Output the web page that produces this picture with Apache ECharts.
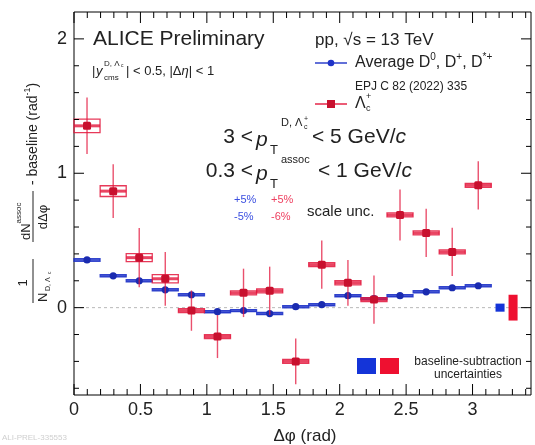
<!DOCTYPE html>
<html>
<head>
<meta charset="utf-8">
<script src="https://cdn.jsdelivr.net/npm/echarts@6/dist/echarts.min.js"></script>
<style>
  html, body { margin: 0; padding: 0; background: #fff; }
  #chart { width: 535px; height: 445px; }
</style>
</head>
<body>
<div id="chart"></div>
<script>
// Δφ bin centres (π/16 wide bins) and half width
const phiBins = [0.098, 0.295, 0.491, 0.687, 0.884, 1.080, 1.276, 1.473, 1.669, 1.865, 2.062, 2.258, 2.454, 2.651, 2.847, 3.043];
const binHalfWidth = 0.098;

// Average D0, D+, D*+ (EPJ C 82 (2022) 335)
const avgD     = [0.355, 0.237, 0.200, 0.133, 0.096, -0.030, -0.022, -0.044, 0.007, 0.022, 0.089, 0.067, 0.089, 0.118, 0.148, 0.163];
const avgDStat = [0.020, 0.018, 0.018, 0.020, 0.020, 0.020, 0.020, 0.020, 0.020, 0.020, 0.020, 0.020, 0.020, 0.020, 0.020, 0.020];
const avgDSyst = [0.010, 0.008, 0.008, 0.008, 0.008, 0.008, 0.008, 0.008, 0.008, 0.008, 0.008, 0.008, 0.008, 0.008, 0.008, 0.008];

// Λc+
const lambdaC     = [1.353, 0.867, 0.372, 0.215, -0.022, -0.215, 0.110, 0.125, -0.400, 0.320, 0.185, 0.060, 0.690, 0.556, 0.415, 0.910];
const lambdaCStat = [0.21, 0.20, 0.22, 0.20, 0.15, 0.16, 0.18, 0.18, 0.17, 0.18, 0.17, 0.18, 0.19, 0.18, 0.18, 0.18];
const lambdaCSyst = [0.050, 0.040, 0.030, 0.030, 0.015, 0.015, 0.015, 0.015, 0.015, 0.015, 0.015, 0.015, 0.015, 0.015, 0.015, 0.015];

// baseline-subtraction uncertainties (D average, Λc+)
const baselineX = [3.207, 3.305];
const baselineHalfWidth = 0.034;
const baselineUnc = [0.030, 0.096];

// axis ranges and ticks
const xMin = 0, xMax = 3.44;
const yMin = -0.65, yMax = 2.2;
const xMajorTicks = [0, 0.5, 1, 1.5, 2, 2.5, 3];
const xMinorTicks = [0.1, 0.2, 0.3, 0.4, 0.6, 0.7, 0.8, 0.9, 1.1, 1.2, 1.3, 1.4, 1.6, 1.7, 1.8, 1.9, 2.1, 2.2, 2.3, 2.4, 2.6, 2.7, 2.8, 2.9, 3.1, 3.2, 3.3, 3.4];
const yMajorTicks = [0, 1, 2];
const yMinorTicks = [-0.6, -0.4, -0.2, 0.2, 0.4, 0.6, 0.8, 1.2, 1.4, 1.6, 1.8];

const FONT = '"Liberation Sans", Arial, Helvetica, sans-serif';
const INK = '#222';
const BLUE = '#1f33c8';
const RED = '#e3163c';

const chart = echarts.init(document.getElementById('chart'), null, { renderer: 'canvas' });

// ROOT-style inward ticks on all four frame sides
function tickRenderer(params, api) {
  const v = api.value(0), isY = api.value(1) === 1, major = api.value(2) === 1;
  const len = isY ? (major ? 10 : 5) : (major ? 11 : 6);
  const style = { stroke: '#000', lineWidth: 1 };
  if (isY) {
    const a = api.coord([xMin, v]), b = api.coord([xMax, v]);
    return { type: 'group', children: [
      { type: 'line', shape: { x1: a[0], y1: a[1], x2: a[0] + len, y2: a[1] }, style: style },
      { type: 'line', shape: { x1: b[0], y1: b[1], x2: b[0] - len, y2: b[1] }, style: style }
    ] };
  }
  const a = api.coord([v, yMin]), b = api.coord([v, yMax]);
  return { type: 'group', children: [
    { type: 'line', shape: { x1: a[0], y1: a[1], x2: a[0], y2: a[1] - len }, style: style },
    { type: 'line', shape: { x1: b[0], y1: b[1], x2: b[0], y2: b[1] + len }, style: style }
  ] };
}

// error-bar point with systematic box
function pointRenderer(color, markerColor, barWidth, square) {
  return function (params, api) {
    const x = api.value(0), y = api.value(1), stat = api.value(2), syst = api.value(3);
    const c = api.coord([x, y]);
    const top = api.coord([x, y + stat]);
    const bot = api.coord([x, y - stat]);
    const left = api.coord([x - binHalfWidth, y]);
    const right = api.coord([x + binHalfWidth, y]);
    const bTL = api.coord([x - binHalfWidth, y + syst]);
    const bBR = api.coord([x + binHalfWidth, y - syst]);
    const children = [];
    children.push({
      type: 'rect',
      shape: { x: bTL[0], y: bTL[1], width: bBR[0] - bTL[0], height: bBR[1] - bTL[1] },
      style: { fill: 'rgba(255,255,255,0)', stroke: color, lineWidth: 1.3, opacity: 0.85 }
    });
    children.push({
      type: 'line', shape: { x1: top[0], y1: top[1], x2: bot[0], y2: bot[1] },
      style: { stroke: color, lineWidth: 1.4, opacity: 0.75 }
    });
    children.push({
      type: 'line', shape: { x1: left[0], y1: left[1], x2: right[0], y2: right[1] },
      style: { stroke: color, lineWidth: barWidth, opacity: 0.8 }
    });
    if (square) {
      children.push({ type: 'rect', shape: { x: c[0] - 4, y: c[1] - 4, width: 8, height: 8, r: 1.5 }, style: { fill: markerColor } });
    } else {
      children.push({ type: 'circle', shape: { cx: c[0], cy: c[1], r: 3.6 }, style: { fill: markerColor } });
    }
    return { type: 'group', children: children };
  };
}

function baselineRenderer(params, api) {
  const x = api.value(0), u = api.value(1);
  const tl = api.coord([x - baselineHalfWidth, u]);
  const br = api.coord([x + baselineHalfWidth, -u]);
  return {
    type: 'rect',
    shape: { x: tl[0], y: tl[1], width: br[0] - tl[0], height: br[1] - tl[1] },
    style: { fill: params.dataIndex === 0 ? '#1434d8' : '#ee1030' }
  };
}

function txt(x, y, text, size, extra) {
  return {
    type: 'text', x: x, y: y, silent: true,
    style: Object.assign({ text: text, fontSize: size, fontFamily: FONT, fill: INK, textVerticalAlign: 'middle', textAlign: 'left' }, extra || {})
  };
}
function richTxt(x, y, text, size, align) {
  return {
    type: 'text', x: x, y: y, silent: true,
    style: {
      text: text, fontSize: size, fontFamily: FONT, fill: INK, textVerticalAlign: 'middle', textAlign: align || 'left',
      rich: {
        n: { fontSize: size, fontFamily: FONT, color: INK, lineHeight: size + 6, verticalAlign: 'middle' },
        i: { fontSize: size, fontFamily: FONT, color: INK, fontStyle: 'italic', lineHeight: size + 6, verticalAlign: 'middle' },
        sup: { fontSize: Math.round(size * 0.62), fontFamily: FONT, color: INK, lineHeight: size + 6, verticalAlign: 'top' },
        sub: { fontSize: Math.round(size * 0.62), fontFamily: FONT, color: INK, lineHeight: size + 6, verticalAlign: 'bottom' }
      }
    }
  };
}

// y-axis title drawn along a rotated baseline (reads bottom to top)
const yTitle = {
  type: 'group', x: 33, y: 303, rotation: Math.PI / 2, silent: true,
  children: [
    txt(20, -10, '1', 13, { textAlign: 'center' }),
    { type: 'line', shape: { x1: 0, y1: 0, x2: 44, y2: 0 }, style: { stroke: INK, lineWidth: 1 } },
    txt(1, 10, 'N', 13),
    txt(12, 15, 'D, Λ', 7),
    txt(29, 17, 'c', 5),
    { type: 'text', x: 63, y: -9, style: { text: '{n|dN}{sup|assoc}', fontSize: 13, fontFamily: FONT, fill: INK, textVerticalAlign: 'middle',
      rich: { n: { fontSize: 13, fontFamily: FONT, color: INK, lineHeight: 18, verticalAlign: 'bottom' }, sup: { fontSize: 8, fontFamily: FONT, color: INK, lineHeight: 18, verticalAlign: 'top' } } } },
    { type: 'line', shape: { x1: 61, y1: 0, x2: 112, y2: 0 }, style: { stroke: INK, lineWidth: 1 } },
    txt(86, 10, 'dΔφ', 13, { textAlign: 'center' }),
    { type: 'text', x: 118, y: 0, style: { text: '{n|- baseline (rad}{sup|-1}{n|)}', fontSize: 14, fontFamily: FONT, fill: INK, textVerticalAlign: 'middle',
      rich: { n: { fontSize: 14, fontFamily: FONT, color: INK, lineHeight: 20, verticalAlign: 'middle' }, sup: { fontSize: 9, fontFamily: FONT, color: INK, lineHeight: 20, verticalAlign: 'top' } } } }
  ]
};

const annotations = [
  yTitle,
  txt(93, 39, 'ALICE Preliminary', 21),
  // |y_cms| < 0.5, |Δη| < 1
  txt(92, 71, '|', 13),
  txt(96, 71, 'y', 13, { fontStyle: 'italic' }),
  txt(104, 64, 'D, Λ', 8),
  txt(121, 66, 'c', 5),
  txt(104, 78, 'cms', 8),
  richTxt(126, 71, '{n|| < 0.5, |Δ}{i|η}{n|| < 1}', 13),
  txt(315, 40, 'pp, √s = 13 TeV', 17),
  // legend
  { type: 'line', shape: { x1: 315, y1: 63, x2: 347, y2: 63 }, style: { stroke: BLUE, lineWidth: 1.4 } },
  { type: 'circle', shape: { cx: 331, cy: 63, r: 3.3 }, style: { fill: BLUE } },
  richTxt(355, 63, '{n|Average D}{sup|0}{n|, D}{sup|+}{n|, D}{sup|*+}', 16),
  txt(355, 87, 'EPJ C 82 (2022) 335', 12),
  { type: 'line', shape: { x1: 315, y1: 104, x2: 347, y2: 104 }, style: { stroke: RED, lineWidth: 1.4 } },
  { type: 'rect', shape: { x: 327, y: 100, width: 8, height: 8 }, style: { fill: '#c8102e' } },
  txt(355, 104, 'Λ', 16),
  txt(366, 109, 'c', 9),
  txt(366, 97, '+', 9),
  // kinematic ranges
  txt(253, 137, '3 <', 21, { textAlign: 'right' }),
  txt(256, 140, 'p', 21, { fontStyle: 'italic' }),
  txt(270, 150, 'T', 13),
  txt(281, 123, 'D, Λ', 11),
  txt(304, 127, 'c', 7),
  txt(304, 119, '+', 7),
  richTxt(312, 137, '{n|< 5 GeV/}{i|c}', 21),
  txt(253, 171, '0.3 <', 21, { textAlign: 'right' }),
  txt(256, 174, 'p', 21, { fontStyle: 'italic' }),
  txt(270, 184, 'T', 13),
  txt(281, 160, 'assoc', 11),
  richTxt(318, 171, '{n|< 1 GeV/}{i|c}', 21),
  // scale uncertainties
  txt(234, 200, '+5%', 11, { fill: '#3a4ee0' }),
  txt(234, 217, '-5%', 11, { fill: '#3a4ee0' }),
  txt(271, 200, '+5%', 11, { fill: '#ee4060' }),
  txt(271, 217, '-6%', 11, { fill: '#ee4060' }),
  txt(307, 212, 'scale unc.', 15),
  // baseline-subtraction legend
  { type: 'rect', shape: { x: 357, y: 358, width: 19, height: 16 }, style: { fill: '#1434d8' } },
  { type: 'rect', shape: { x: 380, y: 358, width: 19, height: 16 }, style: { fill: '#ee1030' } },
  txt(468, 362, 'baseline-subtraction', 12, { textAlign: 'center' }),
  txt(468, 375, 'uncertainties', 12, { textAlign: 'center' }),
  // x-axis title
  richTxt(305, 436, '{n|Δφ (rad)}', 17, 'center'),
  txt(2, 438, 'ALI-PREL-335553', 8, { fill: '#cfcfcf' })
];

const tickData = []
  .concat(xMajorTicks.map(v => [v, 0, 1]))
  .concat(xMinorTicks.map(v => [v, 0, 0]))
  .concat(yMajorTicks.map(v => [v, 1, 1]))
  .concat(yMinorTicks.map(v => [v, 1, 0]));

chart.setOption({
  animation: false,
  backgroundColor: '#fff',
  grid: { left: 74, right: 4, top: 12, bottom: 50, containLabel: false, show: true, borderColor: '#000', borderWidth: 1, backgroundColor: 'transparent' },
  xAxis: {
    type: 'value', min: xMin, max: xMax,
    axisLine: { show: false },
    axisTick: { show: false },
    axisLabel: { show: true, customValues: xMajorTicks, fontSize: 18, color: INK, fontFamily: FONT, margin: 6 },
    splitLine: { show: false }
  },
  yAxis: {
    type: 'value', min: yMin, max: yMax,
    axisLine: { show: false },
    axisTick: { show: false },
    axisLabel: { show: true, customValues: yMajorTicks, fontSize: 18, color: INK, fontFamily: FONT, margin: 7 },
    splitLine: { show: false }
  },
  series: [
    {
      type: 'custom', silent: true, z: 5, clip: false,
      renderItem: tickRenderer,
      encode: { x: 0 },
      data: tickData
    },
    {
      type: 'line', silent: true, symbol: 'none', z: 1,
      data: [[xMin, 0], [xMax, 0]],
      lineStyle: { color: '#b8b8b8', width: 1, type: [3, 3] }
    },
    {
      type: 'custom', silent: true, z: 2,
      renderItem: baselineRenderer,
      data: baselineX.map((x, i) => [x, baselineUnc[i]])
    },
    {
      type: 'custom', silent: true, z: 3,
      renderItem: pointRenderer(BLUE, '#1a2bb0', 2.6, false),
      data: phiBins.map((x, i) => [x, avgD[i], avgDStat[i], avgDSyst[i]])
    },
    {
      type: 'custom', silent: true, z: 4,
      renderItem: pointRenderer(RED, '#c8102e', 3, true),
      data: phiBins.map((x, i) => [x, lambdaC[i], lambdaCStat[i], lambdaCSyst[i]])
    }
  ],
  graphic: annotations
});
</script>
</body>
</html>
